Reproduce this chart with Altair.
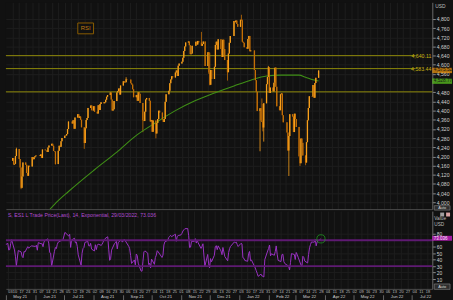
import altair as alt
import pandas as pd
import numpy as np

# ---------------- data (daily closes) ----------------
apr21 = [4019.87, 4077.91, 4073.94, 4079.95, 4097.17, 4128.80, 4127.99, 4141.59, 4124.66, 4170.42,
         4185.47, 4163.26, 4134.94, 4173.42, 4134.98, 4180.17, 4187.62, 4186.72, 4183.18, 4211.47, 4181.17]
may21 = [4192.66, 4164.66, 4167.59, 4201.62, 4232.60, 4188.43, 4152.10, 4063.04, 4112.50, 4173.85,
         4163.29, 4127.83, 4115.68, 4159.12, 4155.86, 4197.05, 4188.13, 4195.99, 4200.88, 4204.11]
jun21 = [4202.04, 4208.12, 4192.85, 4229.89, 4226.52, 4227.26, 4219.55, 4239.18, 4247.44, 4255.15,
         4246.59, 4223.70, 4221.86, 4166.45, 4224.79, 4246.44, 4241.84, 4266.49, 4280.70, 4290.61,
         4291.80, 4297.50]
jul21 = [4319.94, 4352.34, 4343.54, 4358.13, 4320.82, 4369.55, 4384.63, 4369.21, 4374.30, 4360.03,
         4327.16, 4258.49, 4323.06, 4358.69, 4367.48, 4411.79, 4422.30, 4401.46, 4400.64, 4419.15, 4395.26]
aug21 = [4387.16, 4423.15, 4402.66, 4429.10, 4436.52, 4432.35, 4436.75, 4447.70, 4460.83, 4468.00,
         4479.71, 4448.08, 4400.27, 4405.80, 4441.67, 4479.53, 4486.23, 4496.19, 4470.00, 4509.37,
         4528.79, 4522.68]
sep21 = [4524.09, 4536.95, 4535.43, 4520.03, 4514.07, 4493.28, 4458.58, 4468.73, 4443.05, 4480.70,
         4473.75, 4432.99, 4357.73, 4354.19, 4395.64, 4448.98, 4455.48, 4443.11, 4352.63, 4359.46, 4307.54]
oct21 = [4357.04, 4300.46, 4345.72, 4363.55, 4399.76, 4391.34, 4361.19, 4350.65, 4363.80, 4438.26,
         4471.37, 4486.46, 4519.63, 4536.19, 4549.78, 4544.90, 4566.48, 4574.79, 4551.68, 4596.42, 4605.38]
nov21 = [4613.67, 4630.65, 4660.57, 4680.06, 4697.53, 4701.70, 4685.25, 4646.71, 4649.27, 4682.85,
         4682.80, 4700.90, 4688.67, 4704.54, 4697.96, 4682.94, 4690.70, 4701.46, 4594.62, 4655.27, 4567.00]
dec21 = [4513.04, 4577.10, 4538.43, 4591.67, 4686.75, 4701.21, 4667.45, 4712.02, 4668.97, 4634.09,
         4709.85, 4668.67, 4620.64, 4568.02, 4649.23, 4696.56, 4725.79, 4791.19, 4786.35, 4793.06,
         4778.73, 4766.18]
jan22 = [4796.56, 4793.54, 4700.58, 4696.05, 4677.03, 4670.29, 4713.07, 4726.35, 4659.03, 4662.85,
         4577.11, 4532.76, 4482.73, 4397.94, 4410.13, 4356.45, 4349.93, 4326.51, 4431.85, 4515.55]
feb22 = [4546.54, 4589.38, 4477.44, 4500.53, 4483.87, 4521.54, 4587.18, 4504.08, 4418.64, 4401.67,
         4471.07, 4475.01, 4380.26, 4348.87, 4304.76, 4225.50, 4288.70, 4384.65, 4373.94]
mar22 = [4306.26, 4386.54, 4363.49, 4328.87, 4201.09, 4170.70, 4277.88, 4259.52, 4204.31, 4173.11,
         4262.45, 4357.86, 4411.67, 4463.12, 4461.18, 4511.61, 4456.24, 4520.16, 4543.06, 4575.52]

months = [("2021-04", apr21), ("2021-05", may21), ("2021-06", jun21), ("2021-07", jul21),
          ("2021-08", aug21), ("2021-09", sep21), ("2021-10", oct21), ("2021-11", nov21),
          ("2021-12", dec21), ("2022-01", jan22), ("2022-02", feb22), ("2022-03", mar22)]
holidays = ["2021-04-02", "2021-05-31", "2021-07-05", "2021-09-06", "2021-11-25",
            "2021-12-24", "2022-01-17", "2022-02-21"]

# notable intraday extremes (wicks)
wick_highs = {"2021-05-07": 4238.0, "2021-09-02": 4545.8, "2021-11-22": 4743.8, "2021-12-01": 4652.9,
              "2022-01-04": 4818.6, "2022-01-05": 4797.7, "2022-02-02": 4595.3, "2022-02-10": 4590.0,
              "2022-01-26": 4453.2, "2022-01-27": 4428.7}
wick_lows = {"2021-05-12": 4056.9, "2021-05-13": 4061.4, "2021-06-18": 4164.4, "2021-07-19": 4233.1,
             "2021-09-20": 4305.9, "2021-10-04": 4278.9, "2021-11-30": 4560.0, "2021-12-01": 4510.3,
             "2021-12-20": 4531.1, "2022-01-24": 4222.6, "2022-01-27": 4309.5, "2022-01-28": 4264.7,
             "2022-02-24": 4114.7, "2022-03-07": 4199.0, "2022-03-08": 4157.9, "2022-03-14": 4161.7}

# moving average
ma_dates = ["2021-06-10", "2021-06-17", "2021-07-02", "2021-07-30", "2021-08-23", "2021-09-13",
            "2021-10-04", "2021-10-25", "2021-11-15", "2021-12-06", "2021-12-27", "2022-01-14",
            "2022-01-31", "2022-02-15", "2022-03-07", "2022-03-14", "2022-03-22", "2022-03-28"]
ma_values = [3960, 3991, 4047, 4142, 4219, 4292, 4348, 4400, 4443, 4477, 4508, 4533,
             4551, 4555, 4555, 4546, 4535, 4529]

level_values = [4640.11, 4583.44]
level_labels = ["4,640.11", "4,583.44"]
plain_level = [4482.0]
tag_values = [4575.52, 4528.77]
tag_labels = ["4,575.52", "4,528.77"]
tag_colors = ["#f59a0c", "#5fcf1f"]
price_ticks = [4000, 4040, 4080, 4120, 4160, 4200, 4240, 4280, 4320, 4360, 4400, 4440, 4480,
               4560, 4600, 4640, 4680, 4720, 4760, 4800]
rsi_ticks = [10, 20, 30, 40, 50, 60, 80]
rsi_last = [73.036]
rsi_last_label = ["73.036"]
rsi_legend = "S, ES1 L Trade Price(Last), 14, Exponential, 29/03/2022, 73.036"

# ---------------- build tables ----------------
rows = []
for ym, vals in months:
    start = pd.Timestamp(ym + "-01")
    end = start + pd.offsets.MonthEnd(0)
    days = [d for d in pd.bdate_range(start, end) if d.strftime("%Y-%m-%d") not in holidays]
    for d, v in zip(days, vals):
        rows.append((d, v))
df = pd.DataFrame(rows, columns=["date", "close"])
df["open"] = df["close"].shift(1).fillna(df["close"])
keys = df["date"].dt.strftime("%Y-%m-%d")
df["high"] = [max(o, c, wick_highs.get(k, 0)) for o, c, k in zip(df.open, df.close, keys)]
df["low"] = [min(o, c, wick_lows.get(k, 1e9)) for o, c, k in zip(df.open, df.close, keys)]
df["dir"] = np.where(df["close"] >= df["open"], "up", "down")

delta = df["close"].diff()
gain = delta.clip(lower=0).ewm(span=14, adjust=False).mean()
loss = (-delta.clip(upper=0)).ewm(span=14, adjust=False).mean()
df["rsi"] = 100 - 100 / (1 + gain / loss)

prices = df[df["date"] >= "2021-05-01"].copy()
rsi_df = df[df["date"] >= "2021-04-28"][["date", "rsi"]].copy()
last_rsi = rsi_df.tail(1)

ma_df = pd.DataFrame({"date": pd.to_datetime(ma_dates), "ma": ma_values})
lv_df = pd.DataFrame({"v": level_values, "t": level_labels})
pl_df = pd.DataFrame({"v": plain_level})
tag_df = pd.DataFrame({"v": tag_values, "t": tag_labels, "c": tag_colors})
rtag_df = pd.DataFrame({"v": rsi_last, "t": rsi_last_label})
band = pd.DataFrame({"v": [70, 30]})
one = pd.DataFrame({"k": [0]})

# ---------------- styling ----------------
FONT = "Liberation Sans"
BG = "#111111"
GRID = "#1d1d1d"
UP, DOWN = "#f9a01b", "#c46f06"
YEL, YEL_T = "#8f8a0a", "#c9b410"
PURP = "#9a32c4"

W, H1, H2 = 433, 210, 79

x_dom = [alt.DateTime(year=2021, month=5, date=1), alt.DateTime(year=2022, month=7, date=23)]
xs = alt.Scale(domain=x_dom)
mondays = [alt.DateTime(year=d.year, month=d.month, date=d.day)
           for d in pd.date_range("2021-05-03", "2022-07-18", freq="7D")]
mstarts = [alt.DateTime(year=d.year, month=d.month, date=1)
           for d in pd.date_range("2021-05-01", "2022-07-01", freq="MS")]

py = alt.Scale(domain=[3970, 4873], nice=False, zero=False)
ry = alt.Scale(domain=[-5.2, 115.1], nice=False, zero=False)

top_xaxis = alt.Axis(values=mondays, labels=False, ticks=False, domain=True, domainColor="#4a4a4a",
                     grid=True, gridColor=GRID, title=None, orient="bottom")
price_axis = alt.Axis(orient="right", values=price_ticks, labelExpr="format(datum.value, ',')",
                      title=None, labelFontSize=5.2, labelColor="#cfcfcf", tickSize=3,
                      tickColor="#8a8a8a", domainColor="#6a6a6a", grid=True, gridColor=GRID,
                      labelPadding=1, labelFont=FONT)
color_dir = alt.Color("dir:N", scale=alt.Scale(domain=["up", "down"], range=[UP, DOWN]), legend=None)

TX = alt.X("date:T", scale=xs, axis=top_xaxis)


def TY(field):
    return alt.Y(field, scale=py, axis=price_axis)


wicks = alt.Chart(prices).mark_rule(clip=True, strokeWidth=0.8).encode(
    x=TX, y=TY("low:Q"), y2="high:Q", color=color_dir)
bodies = alt.Chart(prices).mark_bar(clip=True, size=1.3).encode(
    x=TX, y=TY("open:Q"), y2="close:Q", color=color_dir)
ma_line = alt.Chart(ma_df).mark_line(clip=True, color="#3f8f16", strokeWidth=1.1,
                                     interpolate="monotone").encode(x=TX, y=TY("ma:Q"))
lv_rules = alt.Chart(lv_df).mark_rule(color=YEL, strokeWidth=1).encode(
    y=TY("v:Q"), x=alt.value(0), x2=alt.value(416))
pl_rule = alt.Chart(pl_df).mark_rule(color=YEL, strokeWidth=1).encode(
    y=TY("v:Q"), x=alt.value(0), x2=alt.value(W))
lv_text = alt.Chart(lv_df).mark_text(align="right", baseline="middle", fontSize=5.3, color=YEL_T,
                                     font=FONT).encode(y=TY("v:Q"), x=alt.value(432), text="t:N")
tags = alt.Chart(tag_df).mark_tick(thickness=5.5, size=20).encode(
    y=TY("v:Q"), x=alt.value(443), color=alt.Color("c:N", scale=None))
tag_text = alt.Chart(tag_df).mark_text(align="left", baseline="middle", fontSize=4.8, color="#161616",
                                       font=FONT).encode(y=TY("v:Q"), x=alt.value(434.5), text="t:N")
usd = alt.Chart(one).mark_text(align="left", baseline="middle", fontSize=5, color="#bdbdbd",
                               font=FONT, text="USD").encode(x=alt.value(436), y=alt.value(4))
rsi_box = alt.Chart(one).mark_rect(fill=BG, stroke="#8a5c00", strokeWidth=1).encode(
    x=alt.value(73), x2=alt.value(89), y=alt.value(21), y2=alt.value(32))
rsi_box_t = alt.Chart(one).mark_text(align="center", baseline="middle", fontSize=6, color="#c07a10",
                                     font=FONT, text="RSI").encode(x=alt.value(81), y=alt.value(26.5))
auto1 = alt.Chart(one).mark_rect(fill="#2e2e2e", stroke="#8a8a8a", strokeWidth=0.6).encode(
    x=alt.value(435), x2=alt.value(451), y=alt.value(206.5), y2=alt.value(211))
auto1_t = alt.Chart(one).mark_text(align="center", baseline="middle", fontSize=4, color="#dddddd",
                                   font=FONT, text="Auto").encode(x=alt.value(443), y=alt.value(208.8))

top = alt.layer(wicks, pl_rule, lv_rules, ma_line, bodies, lv_text, tags, tag_text, usd,
                rsi_box, rsi_box_t, auto1, auto1_t).properties(width=W, height=H1)

# ---------------- RSI panel ----------------
day_axis = alt.Axis(values=mondays, format="%d", labelFontSize=4, labelColor="#b8b8b8", tickSize=1,
                    tickColor="#666666", domainColor="#4a4a4a", labelPadding=0, grid=True,
                    gridColor=GRID, labelFlush=4, labelOverlap=False, title=None, labelFont=FONT,
                    orient="bottom")
month_axis = alt.Axis(values=mstarts, format="%b %y", labelOffset=14, offset=6, tickSize=5,
                      tickColor="#666666", domain=False, labelPadding=-5, labelFontSize=4.3,
                      labelColor="#d0d0d0", labelFlush=False, labelOverlap=False, grid=False,
                      title=None, labelBaseline="top", labelFont=FONT, orient="bottom")
rsi_axis = alt.Axis(orient="right", values=rsi_ticks, title=None,
                    labelFontSize=5, labelColor="#cfcfcf", tickSize=3, tickColor="#8a8a8a",
                    domainColor="#6a6a6a", grid=True, gridColor=GRID, labelPadding=1, labelFont=FONT)

BX = alt.X("date:T", scale=xs, axis=day_axis)


def BY(field):
    return alt.Y(field, scale=ry, axis=rsi_axis)


rsi_line = alt.Chart(rsi_df).mark_line(clip=True, color=PURP, strokeWidth=1).encode(
    x=BX, y=BY("rsi:Q"))
rsi_rules = alt.Chart(band).mark_rule(color="#5e1a72", strokeWidth=2).encode(
    y=BY("v:Q"), x=alt.value(0), x2=alt.value(W))
circle = alt.Chart(last_rsi).mark_point(shape="circle", filled=False, color="#22a822", size=70,
                                        strokeWidth=1).encode(x=BX, y=BY("rsi:Q"))
rtag = alt.Chart(rtag_df).mark_tick(thickness=5, size=20, color="#e01ee0").encode(
    y=BY("v:Q"), x=alt.value(443))
rtag_t = alt.Chart(rtag_df).mark_text(align="left", baseline="middle", fontSize=4.6, color="#ffe6ff",
                                      font=FONT, dy=0.7).encode(y=BY("v:Q"), x=alt.value(434.5),
                                                                text="t:N")
legend_t = alt.Chart(one).mark_text(align="left", baseline="middle", fontSize=5.3, color="#b04ad0",
                                    font=FONT, text=rsi_legend).encode(x=alt.value(2), y=alt.value(4))
val_t = alt.Chart(one).mark_text(align="left", baseline="middle", fontSize=4.8, color="#bdbdbd",
                                 font=FONT, text="Value").encode(x=alt.value(435), y=alt.value(8))
usd2_t = alt.Chart(one).mark_text(align="left", baseline="middle", fontSize=4.8, color="#bdbdbd",
                                  font=FONT, text="USD").encode(x=alt.value(435), y=alt.value(14))
sq1 = alt.Chart(one).mark_rect(fill="#a0a0a0").encode(
    x=alt.value(441), x2=alt.value(445), y=alt.value(1.5), y2=alt.value(5.5))
sq2 = alt.Chart(one).mark_rect(fill="#d9a3a3").encode(
    x=alt.value(447), x2=alt.value(451), y=alt.value(1.5), y2=alt.value(5.5))
auto2 = alt.Chart(one).mark_rect(fill="#2e2e2e", stroke="#8a8a8a", strokeWidth=0.6).encode(
    x=alt.value(435), x2=alt.value(451), y=alt.value(74), y2=alt.value(79.5))
auto2_t = alt.Chart(one).mark_text(align="center", baseline="middle", fontSize=4, color="#dddddd",
                                   font=FONT, text="Auto").encode(x=alt.value(443), y=alt.value(76.8))

month_layer = alt.Chart(rsi_df).mark_point(opacity=0).encode(
    x=alt.X("date:T", scale=xs, axis=month_axis),
    y=BY("rsi:Q"),
)

inner = alt.layer(rsi_line, rsi_rules, circle, rtag, rtag_t, legend_t, val_t, usd2_t,
                  sq1, sq2, auto2, auto2_t)
bottom = alt.layer(inner, month_layer).resolve_axis(x="independent").properties(width=W, height=H2)

chart = alt.vconcat(top, bottom, spacing=0).properties(
    padding=0, background=BG
).configure_view(stroke=None, fill=BG).configure_axis(labelFont=FONT)

chart.save("out.html", embed_options={"renderer": "svg", "actions": False})
